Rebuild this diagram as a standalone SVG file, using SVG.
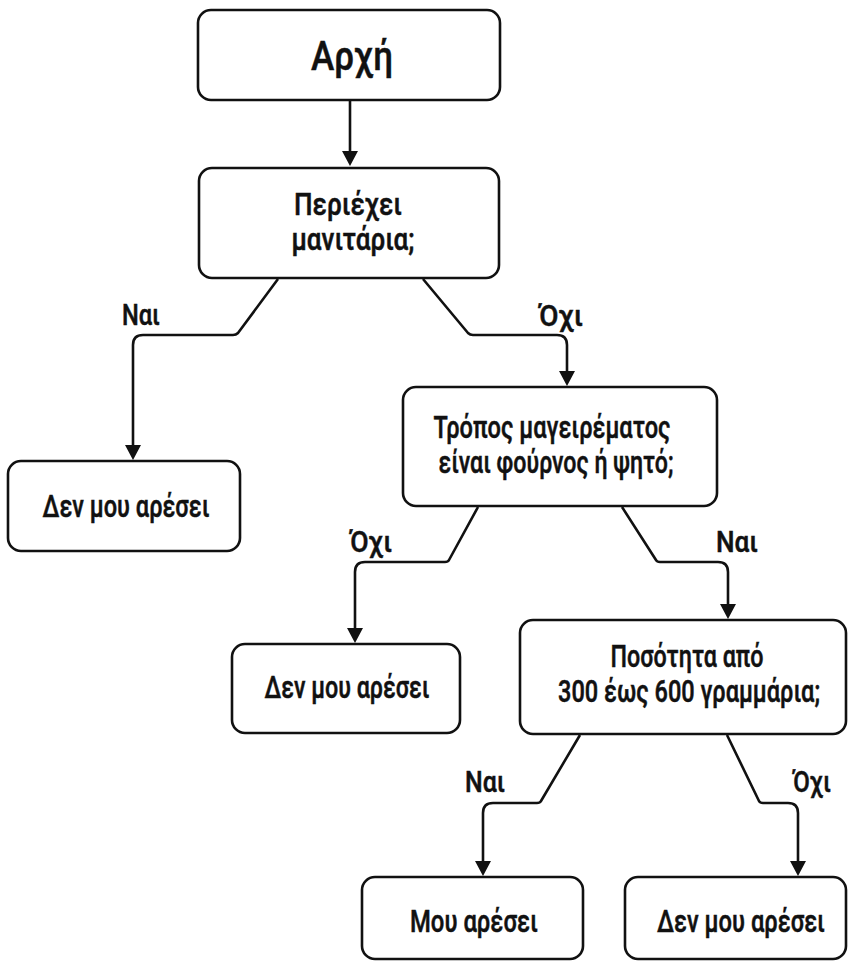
<svg xmlns="http://www.w3.org/2000/svg" width="848" height="962" viewBox="0 0 848 962">
<style>
.box{fill:#fff;stroke:#111;stroke-width:2.6}
.t{font-family:"Roboto Medium",Roboto,"Noto Sans","DejaVu Sans",sans-serif;font-size:31px;font-weight:500;fill:#111;text-anchor:middle;stroke:#111;stroke-width:0.5}
.big{font-size:41px}
.lab{font-family:"Roboto Medium",Roboto,"Noto Sans","DejaVu Sans",sans-serif;font-size:29px;font-weight:500;fill:#111;text-anchor:middle;stroke:#111;stroke-width:0.5}
.c{fill:none;stroke:#111;stroke-width:2.6;stroke-linejoin:round;marker-end:url(#ah)}
</style>
<defs>
<marker id="ah" markerUnits="userSpaceOnUse" markerWidth="16" markerHeight="18" viewBox="0 0 16 18" refX="9" refY="9" orient="auto">
<path d="M0,1 L15,9 L0,17 z" fill="#111"/>
</marker>
</defs>
<rect width="848" height="962" fill="#fff"/>
<g id="connectors">
<path class="c" d="M350,101 L350,160"/>
<path class="c" d="M278,279 L238,333 Q236,335 233,335 L143,335 Q133,335 133,345 L133,454"/>
<path class="c" d="M423,279 L468,333 Q470,335 473,335 L557,335 Q567,335 567,345 L567,380"/>
<path class="c" d="M478,507 L449,560 Q448,562 445,562 L365,562 Q355,562 355,572 L355,637"/>
<path class="c" d="M622,507 L656,560 Q657,562 660,562 L718,562 Q728,562 728,572 L728,613"/>
<path class="c" d="M580,735 L541,801 Q540,803 537,803 L493,803 Q483,803 483,813 L483,870"/>
<path class="c" d="M727,735 L759,801 Q760,803 763,803 L788,803 Q798,803 798,813 L798,870"/>
</g>
<g id="labels">
<text class="lab" x="141" y="325" textLength="38" lengthAdjust="spacingAndGlyphs">Ναι</text>
<text class="lab" x="561" y="326" textLength="44" lengthAdjust="spacingAndGlyphs">Όχι</text>
<text class="lab" x="371" y="552" textLength="42" lengthAdjust="spacingAndGlyphs">Όχι</text>
<text class="lab" x="737" y="552" textLength="42" lengthAdjust="spacingAndGlyphs">Ναι</text>
<text class="lab" x="485" y="792" textLength="40" lengthAdjust="spacingAndGlyphs">Ναι</text>
<text class="lab" x="812" y="792" textLength="38" lengthAdjust="spacingAndGlyphs">Όχι</text>
</g>
<g id="start">
<rect class="box" x="198" y="10" width="302" height="90" rx="13"/>
<text class="t big" x="352" y="70" textLength="82" lengthAdjust="spacingAndGlyphs">Αρχή</text>
</g>
<g id="mushrooms">
<rect class="box" x="199" y="168" width="300" height="110" rx="13"/>
<text class="t" x="348" y="215" textLength="108" lengthAdjust="spacingAndGlyphs">Περιέχει</text>
<text class="t" x="353" y="250" textLength="123" lengthAdjust="spacingAndGlyphs">μανιτάρια;</text>
</g>
<g id="dislike1">
<rect class="box" x="8" y="461" width="232" height="90" rx="13"/>
<text class="t" x="126" y="517" textLength="167" lengthAdjust="spacingAndGlyphs">Δεν μου αρέσει</text>
</g>
<g id="cooking">
<rect class="box" x="403" y="387" width="314" height="119" rx="13"/>
<text class="t" x="552" y="438" textLength="237" lengthAdjust="spacingAndGlyphs">Τρόπος μαγειρέματος</text>
<text class="t" x="556" y="473" textLength="235" lengthAdjust="spacingAndGlyphs">είναι φούρνος ή ψητό;</text>
</g>
<g id="dislike2">
<rect class="box" x="232" y="644" width="228" height="89" rx="13"/>
<text class="t" x="347" y="698" textLength="165" lengthAdjust="spacingAndGlyphs">Δεν μου αρέσει</text>
</g>
<g id="quantity">
<rect class="box" x="520" y="620" width="326" height="114" rx="13"/>
<text class="t" x="687" y="667" textLength="153" lengthAdjust="spacingAndGlyphs">Ποσότητα από</text>
<text class="t" x="689" y="702" textLength="262" lengthAdjust="spacingAndGlyphs">300 έως 600 γραμμάρια;</text>
</g>
<g id="like">
<rect class="box" x="362" y="877" width="221" height="82" rx="13"/>
<text class="t" x="474" y="932" textLength="128" lengthAdjust="spacingAndGlyphs">Μου αρέσει</text>
</g>
<g id="dislike3">
<rect class="box" x="625" y="877" width="221" height="82" rx="13"/>
<text class="t" x="741" y="932" textLength="168" lengthAdjust="spacingAndGlyphs">Δεν μου αρέσει</text>
</g>
</svg>
